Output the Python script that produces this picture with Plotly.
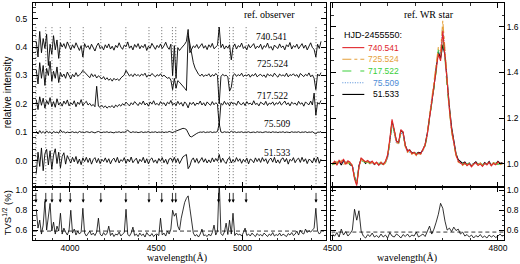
import plotly.graph_objects as go

# ---------------- data ----------------
# left panel: spectra sampled from 3805 A in 10 A steps (values in 1e-3 relative intensity)
left_start, left_step = 3805, 10
s740 = [420, 365, 455, 380, 430, 395, 445, 335, 410, 375,
        440, 390, 425, 360, 415, 400, 412, 395, 418, 402,
        390, 408, 396, 415, 400, 388, 405, 365, 412, 398,
        405, 392, 410, 399, 386, 404, 414, 395, 402, 390,
        408, 397, 411, 393, 403, 389, 406, 398, 415, 400,
        392, 407, 401, 418, 396, 404, 390, 409, 399, 412,
        394, 405, 398, 410, 388, 403, 396, 413, 401, 392,
        406, 398, 411, 395, 404, 417, 400, 392, 410, 300,
        405, 290, 398, 388, 396, 402, 410, 420, 462, 380,
        392, 404, 398, 409, 395, 402, 412, 396, 405, 391,
        408, 399, 413, 394, 401, 406, 470, 398, 410, 393,
        404, 396, 408, 355, 399, 411, 393, 405, 400, 414,
        395, 402, 390, 409, 397, 404, 412, 394, 403, 398,
        410, 392, 405, 399, 414, 396, 402, 389, 407, 400,
        395, 411, 398, 404, 390, 408, 401, 416, 393, 405,
        399, 410, 394, 403, 412, 396, 407, 390, 404, 415,
        398, 392, 365, 410, 395, 420]
s725 = [320, 270, 345, 290, 335, 265, 325, 300, 350, 280,
        315, 290, 330, 275, 310, 295, 305, 290, 312, 298,
        288, 304, 295, 310, 297, 302, 308, 318, 312, 306,
        300, 292, 306, 296, 303, 291, 299, 294, 288, 296,
        285, 292, 283, 289, 280, 290, 284, 288, 282, 291,
        295, 302, 318, 308, 298, 304, 296, 306, 299, 303,
        297, 305, 300, 308, 294, 302, 298, 307, 301, 295,
        303, 298, 306, 296, 301, 295, 290, 293, 284, 250,
        290, 255, 282, 276, 270, 262, 255, 247, 440, 412,
        375, 345, 326, 312, 304, 298, 305, 296, 302, 299,
        306, 295, 303, 298, 307, 300, 200, 296, 304, 299,
        301, 295, 245, 258, 300, 306, 297, 303, 299, 308,
        296, 302, 298, 305, 294, 303, 299, 307, 295, 301,
        304, 297, 302, 293, 306, 299, 303, 296, 308, 300,
        294, 305, 299, 302, 297, 308, 295, 303, 300, 306,
        298, 303, 293, 307, 300, 296, 304, 299, 309, 295,
        302, 290, 250, 305, 298, 310]
s717 = [215, 180, 225, 195, 220, 185, 212, 198, 222, 190,
        208, 188, 218, 196, 205, 192, 210, 199, 214, 193,
        204, 197, 211, 190, 206, 198, 215, 194, 203, 209,
        196, 202, 193, 198, 190, 262, 192, 188, 195, 187,
        193, 185, 191, 189, 194, 186, 196, 190, 198, 192,
        201, 195, 206, 199, 193, 204, 197, 208, 200, 194,
        205, 198, 210, 196, 203, 192, 207, 199, 211, 197,
        202, 195, 208, 199, 204, 193, 206, 200, 212, 196,
        203, 194, 209, 198, 205, 192, 207, 200, 186, 205,
        198, 206, 194, 203, 199, 210, 196, 204, 193, 207,
        200, 195, 208, 197, 204, 199, 125, 202, 196, 209,
        198, 204, 193, 207, 199, 203, 195, 210, 200, 197,
        205, 194, 208, 199, 203, 196, 211, 198, 202, 193,
        206, 200, 197, 209, 194, 203, 199, 207, 195, 204,
        199, 208, 196, 202, 210, 197, 204, 193, 206, 200,
        203, 195, 209, 199, 204, 192, 207, 201, 197, 210,
        196, 238, 160, 205, 199, 212]
s755 = [104, 94, 106, 97, 103, 96, 105, 98, 102, 95,
        103, 99, 101, 97, 108, 100, 102, 98, 101, 99,
        100, 102, 99, 101, 98, 103, 100, 101, 99, 102,
        101, 99, 102, 100, 98, 101, 103, 100, 99, 101,
        100, 102, 99, 101, 100, 98, 101, 100, 102, 99,
        101, 100, 103, 108, 101, 99, 102, 100, 101, 99,
        100, 102, 99, 101, 100, 103, 99, 101, 100, 102,
        99, 101, 100, 102, 99, 101, 100, 103, 101, 99,
        102, 104, 106, 108, 111, 114, 113, 110, 98, 86,
        84, 89, 93, 96, 99, 101, 100, 102, 99, 101,
        100, 102, 99, 101, 100, 103, 130, 101, 99, 102,
        100, 101, 99, 104, 100, 102, 99, 101, 100, 102,
        99, 101, 100, 102, 99, 100, 101, 99, 102, 100,
        101, 99, 100, 102, 100, 101, 99, 102, 100, 101,
        99, 101, 100, 102, 99, 101, 100, 99, 102, 100,
        101, 100, 102, 99, 101, 100, 102, 99, 101, 100,
        102, 99, 94, 101, 100, 103]
s515 = [-45, 30, -20, 45, -35, 25, 40, -15, 35, -30,
        20, 42, -10, 30, -25, 15, 28, -12, 18, 5,
        -8, 12, -4, 15, -10, 6, -14, 10, -3, 12,
        -6, 9, -12, 4, 11, -7, 8, -10, 5, -3,
        10, -6, 7, -11, 3, 9, -5, 12, -8, 4,
        -2, 11, -9, 6, -4, 13, -7, 2, 9, -10,
        5, -3, 12, -8, 7, -11, 4, 10, -6, 3,
        -9, 8, -2, 11, -7, 5, -12, 6, 9, -4,
        12, -6, 8, -10, 5, 14, 18, 22, -28, -18,
        2, 10, -6, 8, -9, 4, 11, -5, 7, -8,
        3, -7, 10, -4, 8, -2, 22, -6, 9, -3,
        -10, 6, 12, -8, 4, -5, 11, -2, 7, -9,
        5, -4, 9, -11, 6, 2, -7, 10, -3, 8,
        -6, 11, -2, 7, -10, 4, 9, -5, 12, -8,
        3, -9, 6, 10, -4, 8, -12, 5, -1, 11,
        -7, 4, 9, -6, 12, -3, 7, -10, 5, 2,
        -8, 10, -5, 13, -9, 6]
tvs_left = [810, 620, 700, 560, 650, 890, 600, 720, 870, 590,
            680, 560, 640, 590, 770, 560, 620, 580, 550, 600,
            800, 570, 610, 550, 590, 560, 580, 820, 570, 540,
            560, 590, 550, 570, 545, 580, 720, 560, 540, 575,
            550, 565, 640, 545, 570, 535, 560, 550, 580, 540,
            560, 575, 810, 555, 540, 570, 630, 545, 560, 535,
            570, 545, 560, 530, 575, 550, 540, 565, 535, 555,
            560, 545, 720, 550, 570, 540, 590, 560, 610, 800,
            740, 770, 640, 600, 720, 810, 880, 920, 945, 820,
            670, 570, 540, 555, 530, 560, 610, 545, 550, 535,
            560, 540, 575, 650, 550, 590, 1100, 565, 545, 580,
            670, 555, 700, 560, 770, 545, 570, 550, 560, 540,
            575, 620, 545, 560, 540, 570, 550, 535, 565, 545,
            555, 540, 570, 550, 535, 560, 545, 575, 540, 555,
            545, 570, 540, 560, 550, 535, 565, 550, 575, 545,
            560, 590, 550, 600, 570, 560, 610, 575, 595, 580,
            600, 620, 820, 590, 560, 580]

# variable lines marked in the left panel (A)
line_wl = [3803, 3860, 3896, 3944, 4002, 4077, 4179, 4324, 4458, 4532,
           4594, 4613, 4861, 4925, 4946, 5021, 5426]

# right panel: spectra sampled from 4500 A in 4 A steps (values in 1e-3)
right_start, right_step = 4500, 4
r740 = [1000, 1012, 994, 1016, 1004, 1021, 998, 1013, 1006, 990,
        935, 905, 988, 1026, 1017, 1009, 1015, 1003, 1012, 999,
        1008, 994, 1006, 997, 1011, 1040, 1110, 1195, 1150, 1098,
        1095, 1150, 1140, 1080, 1055, 1062, 1044, 1051, 1039, 1048,
        1044, 1060, 1082, 1130, 1200, 1270, 1340, 1410, 1480, 1450,
        1580, 1470, 1340, 1240, 1150, 1090, 1040, 1012, 1004, 996,
        1005, 992, 1001, 987, 998, 1006, 993, 1000, 989, 1003,
        995, 1007, 991, 1002, 996, 1009, 1000, 1004]
r725 = [1005, 998, 1010, 1002, 1015, 996, 1008, 1001, 1012, 993,
        940, 910, 982, 1020, 1012, 1004, 1010, 998, 1007, 1002,
        1003, 998, 1009, 993, 1006, 1035, 1100, 1185, 1145, 1092,
        1090, 1142, 1135, 1075, 1050, 1058, 1042, 1048, 1036, 1045,
        1042, 1058, 1085, 1135, 1210, 1285, 1360, 1440, 1510, 1490,
        1625, 1500, 1350, 1235, 1140, 1080, 1035, 1008, 1000, 993,
        1002, 995, 998, 990, 1003, 1001, 996, 1004, 992, 999,
        998, 1003, 994, 1005, 999, 1004, 997, 1001]
r717 = [995, 1006, 1000, 1010, 998, 1012, 1003, 1008, 999, 995,
        945, 915, 990, 1018, 1010, 1006, 1008, 1000, 1005, 1003,
        1000, 1003, 1001, 999, 1004, 1030, 1095, 1180, 1140, 1095,
        1090, 1140, 1130, 1078, 1052, 1055, 1047, 1046, 1042, 1044,
        1046, 1055, 1078, 1125, 1195, 1260, 1330, 1400, 1500, 1470,
        1550, 1460, 1330, 1235, 1145, 1085, 1042, 1015, 1006, 1000,
        1001, 997, 1003, 994, 1000, 1004, 998, 1002, 995, 1001,
        999, 1002, 997, 1000, 1003, 998, 1002, 999]
r755 = [1002, 1004, 998, 1006, 1003, 1008, 1001, 1005, 1002, 997,
        950, 918, 986, 1015, 1011, 1007, 1006, 1003, 1004, 1001,
        1002, 1000, 1003, 1001, 1002, 1028, 1090, 1175, 1138, 1090,
        1088, 1135, 1128, 1074, 1050, 1052, 1045, 1047, 1043, 1045,
        1045, 1057, 1080, 1128, 1205, 1275, 1350, 1425, 1495, 1480,
        1600, 1490, 1345, 1238, 1142, 1083, 1038, 1010, 1003, 1000,
        1000, 999, 1001, 998, 1002, 1000, 999, 1001, 998, 1000,
        1001, 999, 1000, 1002, 999, 1001, 1000, 1000]
r515 = [998, 1009, 1003, 1012, 995, 1015, 1004, 1010, 996, 992,
        942, 912, 992, 1022, 1014, 1002, 1012, 1006, 1010, 997,
        1005, 996, 1004, 1000, 1008, 1032, 1100, 1185, 1145, 1100,
        1092, 1145, 1138, 1082, 1058, 1060, 1048, 1049, 1044, 1050,
        1047, 1062, 1085, 1135, 1205, 1265, 1335, 1420, 1490, 1460,
        1520, 1475, 1355, 1250, 1160, 1095, 1045, 1018, 1010, 1002,
        1008, 996, 1004, 991, 1001, 1009, 997, 1003, 992, 1006,
        998, 1010, 994, 1005, 999, 1011, 1002, 1006]
tvs_right = [560, 540, 575, 530, 610, 550, 585, 540, 565, 600,
             810, 700, 795, 590, 540, 520, 555, 535, 570, 530,
             545, 525, 560, 530, 550, 520, 575, 540, 530, 560,
             545, 520, 555, 535, 560, 530, 550, 540, 580, 530,
             545, 560, 535, 590, 640, 560, 610, 680, 760, 870,
             820, 690, 600, 620, 585, 630, 595, 610, 560, 580,
             540, 555, 530, 550, 520, 545, 530, 555, 525, 540,
             520, 550, 530, 545, 525, 540, 560, 535]
tvs_threshold = [0.59, 0.58]   # left, right

dates = ["740.541", "725.524", "717.522", "75.509", "51.533"]
colors = ["#e0262c", "#e5a03a", "#3ccf3c", "#4d8bd6", "#000000"]
dashes = ["solid", "dashdot", "dash", "dot", "solid"]

# ---------------- figure ----------------
W, H = 520, 264
ML, MR, MT, MB = 33, 15, 1, 24
PW, PH = W - ML - MR, H - MT - MB


def px(x):
    return (x - ML) / PW


def py(y):
    return (H - MB - y) / PH


wl_left = [left_start + left_step * i for i in range(len(s740))]
wl_right = [right_start + right_step * i for i in range(len(r740))]
LX = [3786, 5486]
RX = [4498, 4811]

fig = go.Figure()


def add(x, y, xa, ya, color, width, dash="solid"):
    fig.add_trace(go.Scatter(x=x, y=y, xaxis=xa, yaxis=ya, mode="lines",
                             line=dict(color=color, width=width, dash=dash),
                             showlegend=False, hoverinfo="skip"))


# dotted line markers in top-left panel
dx, dy = [], []
for w in line_wl:
    dx += [w, w, None]
    dy += [0.47, -0.094, None]
add(dx, dy, "x", "y", "#444444", 0.8, "1px,2px")

for s in [s740, s725, s717, s755, s515]:
    add(wl_left, [v / 1000 for v in s], "x", "y", "black", 0.9)

# right top spectra (black first, red on top)
for k in [4, 3, 2, 1, 0]:
    s = [r740, r725, r717, r755, r515][k]
    d = dashes[k] if k != 3 else "1px,1.5px"
    add(wl_right, [v / 1000 for v in s], "x2", "y2", colors[k], 1.1, d)

# TVS
add(wl_left, [v / 1000 for v in tvs_left], "x3", "y3", "black", 0.8)
add(LX, [tvs_threshold[0]] * 2, "x3", "y3", "black", 0.8, "4px,3px")
add(wl_right, [v / 1000 for v in tvs_right], "x4", "y4", "black", 0.8)
add(RX, [tvs_threshold[1]] * 2, "x4", "y4", "black", 0.8, "4px,3px")

ann = []
for w in line_wl:
    ann.append(dict(x=w, y=0.875, ax=w, ay=0.99, xref="x3", yref="y3",
                    axref="x3", ayref="y3", showarrow=True, arrowhead=2,
                    arrowsize=0.8, arrowwidth=0.8, arrowcolor="black", text=""))

serif = "Liberation Serif"
sans = "Liberation Sans"


def txt(x, y, t, size=9, fam=serif, color="black", xa="center", angle=0):
    ann.append(dict(x=px(x), y=py(y), xref="paper", yref="paper", text=t,
                    showarrow=False, xanchor=xa, yanchor="middle", textangle=angle,
                    font=dict(family=fam, size=size, color=color)))


txt(270, 13, "ref. observer", 10)
for (xx, yy), t in zip([(272, 35), (273, 63), (273, 95), (278, 123), (278, 152)], dates):
    txt(xx, yy, t, 9.5)
txt(430, 13, "ref. WR star", 10)
txt(374, 33, "HJD-2455550:", 9, sans)
shapes = []
for k, (t, c, d) in enumerate(zip(dates, colors, dashes)):
    yy = 46 + k * 11.8
    txt(402, yy, t, 8.5, sans, c, "right")
    dd = d if k != 3 else "1px,1.5px"
    shapes.append(dict(type="line", xref="paper", yref="paper",
                       x0=px(343), x1=px(365), y0=py(yy), y1=py(yy),
                       line=dict(color=c, width=1.1, dash=dd)))
txt(7, 91, "relative intensity", 10, sans, angle=-90)
txt(7, 213, "TVS<sup>1/2</sup> (%)", 9.5, sans, angle=-90)
txt(177, 258, "wavelength(Å)", 10, serif)
txt(408, 258, "wavelength(Å)", 10, serif)

tf = dict(family=sans, size=8.5, color="black")
base = dict(showline=True, linecolor="black", linewidth=1, mirror="ticks",
            ticks="inside", ticklen=5, tickwidth=1, tickcolor="black",
            showgrid=False, zeroline=False, tickfont=tf)


def minor(d):
    return dict(ticks="inside", ticklen=2.5, tickwidth=0.8, tickcolor="black",
                dtick=d, showgrid=False)


xl = px(327)
xr0 = px(332)
yb = py(187)

fig.update_layout(
    width=W, height=H, margin=dict(l=ML, r=MR, t=MT, b=MB),
    paper_bgcolor="white", plot_bgcolor="white", hovermode=False,
    xaxis=dict(base, domain=[0, xl], range=LX, tickvals=[4000, 4500, 5000],
               showticklabels=False, anchor="y", minor=minor(100)),
    yaxis=dict(base, domain=[yb, 1], range=[-0.094, 0.555],
               tickvals=[0, 0.1, 0.2, 0.3, 0.4, 0.5], tickformat=".1f",
               anchor="x", minor=minor(0.02), ticklabelstandoff=3),
    xaxis2=dict(base, domain=[xr0, 1], range=RX, tickvals=[4500, 4800],
                showticklabels=False, anchor="y2", minor=minor(50)),
    yaxis2=dict(base, domain=[yb, 1], range=[0.897, 1.703], side="right",
                tickvals=[1.0, 1.2, 1.4, 1.6], tickformat=".1f",
                anchor="x2", minor=minor(0.05), ticklabelstandoff=0),
    xaxis3=dict(base, domain=[0, xl], range=LX, tickvals=[4000, 4500, 5000],
                anchor="y3", minor=minor(100), ticklabelstandoff=0),
    yaxis3=dict(base, domain=[0, yb], range=[0.50, 1.03],
                tickvals=[0.6, 0.8, 1.0], tickformat=".1f",
                anchor="x3", minor=minor(0.05), ticklabelstandoff=3),
    xaxis4=dict(base, domain=[xr0, 1], range=RX, tickvals=[4500, 4800],
                anchor="y4", minor=minor(50), ticklabelstandoff=0),
    yaxis4=dict(base, domain=[0, yb], range=[0.50, 1.03], side="right",
                tickvals=[0.6, 0.8, 1.0], tickformat=".1f",
                anchor="x4", minor=minor(0.05), ticklabelstandoff=0),
    annotations=ann, shapes=shapes,
)

fig.write_html("out.html",
               config={"displayModeBar": False, "staticPlot": True},
               post_script="document.body.style.margin='0';"
                           "document.body.style.overflow='hidden';")
